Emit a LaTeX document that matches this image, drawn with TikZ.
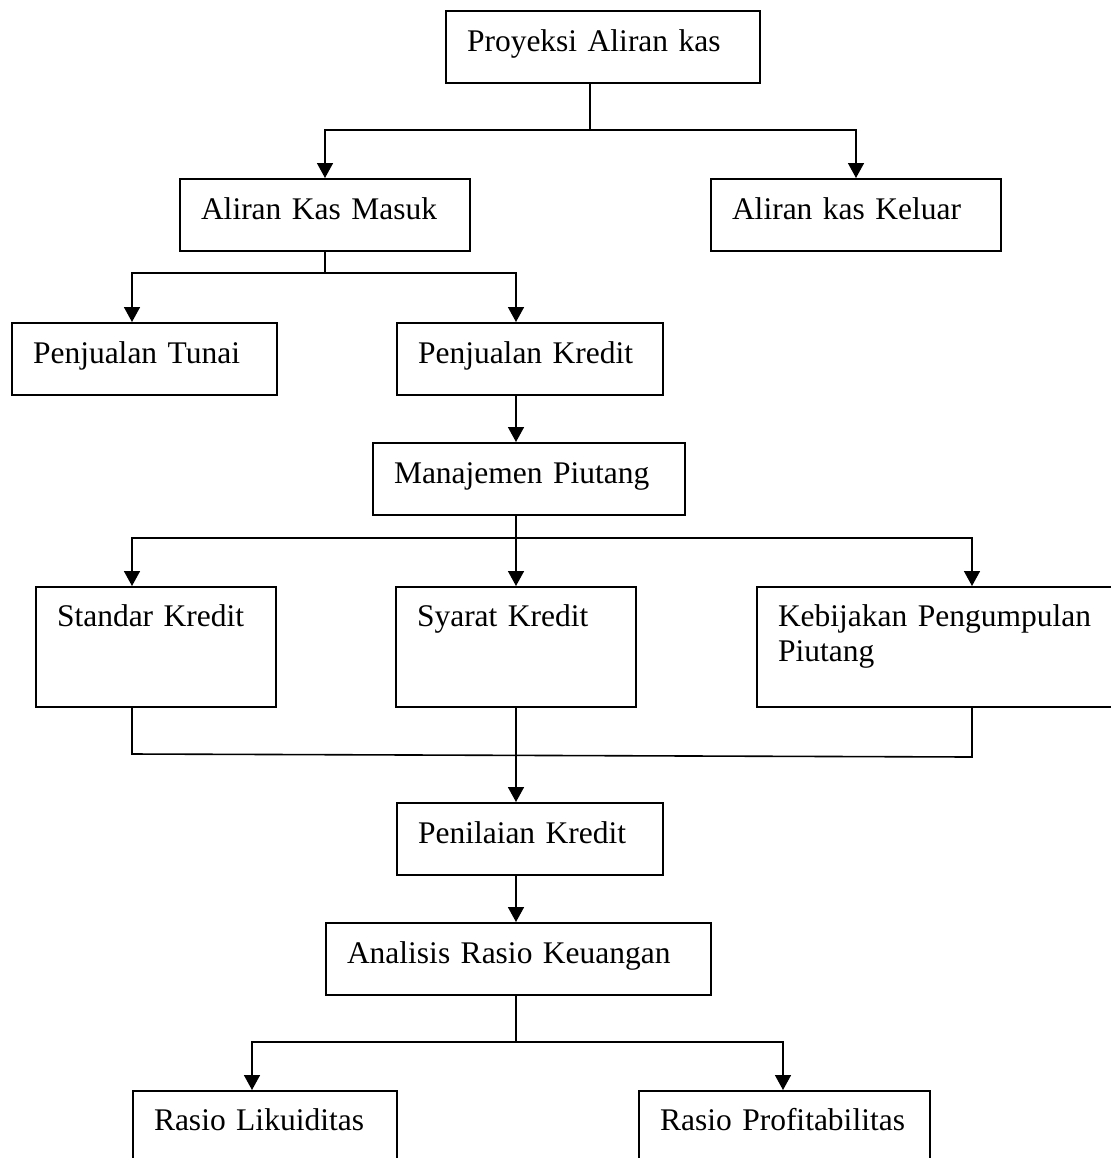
\documentclass[tikz,border=0pt]{standalone}
\usepackage{fontspec}
\setmainfont{Liberation Serif}
\usepackage{tikz}
\usetikzlibrary{arrows.meta, calc}
\tikzstyle{box} = [rectangle, draw=black, line width=1pt, anchor=north west,
                   align=left, inner xsep=10.5pt, inner ysep=0pt,
                   text height=20pt, text depth=16pt,
                   execute at begin node={\hyphenpenalty=10000 }]
\tikzstyle{tallbox} = [box, text height=19.5pt, text depth=40.5pt]
\tikzstyle{line} = [line width=0.8pt]
\tikzstyle{arrow} = [-{Triangle[length=7.5pt, width=8pt]}, line width=0.8pt]

\begin{document}
\begin{tikzpicture}[x=0.5pt, y=-0.5pt, font=\fontsize{15.75}{17.5}\selectfont]
\useasboundingbox (0,0) rectangle (1110,1158);
\coordinate (spine) at (516,0);
\coordinate (lcol) at (132,0);
\coordinate (rcol) at (972,0);
\coordinate (llcol) at (252,0);
\coordinate (rrcol) at (783,0);

\node[box, text width=136pt] (proyeksi) at (445,10) {Proyeksi Aliran kas};
\node[box, text width=124pt] (masuk) at (179,178) {Aliran Kas Masuk};
\node[box, text width=124pt] (keluar) at (710,178) {Aliran kas Keluar};
\node[box, text width=111.5pt] (tunai) at (11,322) {Penjualan Tunai};
\node[box, text width=112pt] (kredit) at (396,322) {Penjualan Kredit};
\node[box, text width=135pt] (piutang) at (372,442) {Manajemen Piutang};
\node[tallbox, text width=99pt] (standar) at (35,586) {Standar Kredit};
\node[tallbox, text width=99pt] (syarat) at (395,586) {Syarat Kredit};
\node[tallbox, text width=164pt] (kebijakan) at (756,586) {Kebijakan Pengumpulan\\Piutang};
\node[box, text width=112pt] (penilaian) at (396,802) {Penilaian Kredit};
\node[box, text width=171.5pt] (analisis) at (325,922) {Analisis Rasio Keuangan};
\node[box, text width=111pt, text height=19.5pt] (likuid) at (132,1090) {Rasio Likuiditas};
\node[box, text width=124.5pt, text height=19.5pt] (profit) at (638,1090) {Rasio Profitabilitas};

% cabang aliran kas
\coordinate (t1) at (590,130);
\draw[line] (t1 |- proyeksi.south) -- (t1);
\draw[arrow] (t1) -| (masuk.north);
\draw[arrow] (t1) -| (keluar.north);

\coordinate (t2) at (325,273);
\draw[line] (masuk.south -| t2) -- (t2);
\draw[arrow] (t2) -| (tunai.north -| lcol);
\draw[arrow] (t2) -| (kredit.north -| spine);
\draw[arrow] (kredit.south -| spine) -- (piutang.north -| spine);

% piutang
\coordinate (t3) at (516,538);
\draw[line] (piutang.south -| spine) -- (t3);
\draw[arrow] (t3) -| (standar.north -| lcol);
\draw[arrow] (t3) -- (syarat.north -| spine);
\draw[arrow] (t3) -| (kebijakan.north -| rcol);

\coordinate (jl) at (132,754);
\coordinate (jr) at (972,757);
\draw[line] (standar.south -| lcol) -- (jl) -- (jr) -- (kebijakan.south -| rcol);
\draw[arrow] (syarat.south -| spine) -- (penilaian.north -| spine);
\draw[arrow] (penilaian.south -| spine) -- (analisis.north -| spine);

% rasio
\coordinate (t4) at (516,1042);
\draw[line] (analisis.south -| spine) -- (t4);
\draw[arrow] (t4) -| (likuid.north -| llcol);
\draw[arrow] (t4) -| (profit.north -| rrcol);
\end{tikzpicture}
\end{document}
